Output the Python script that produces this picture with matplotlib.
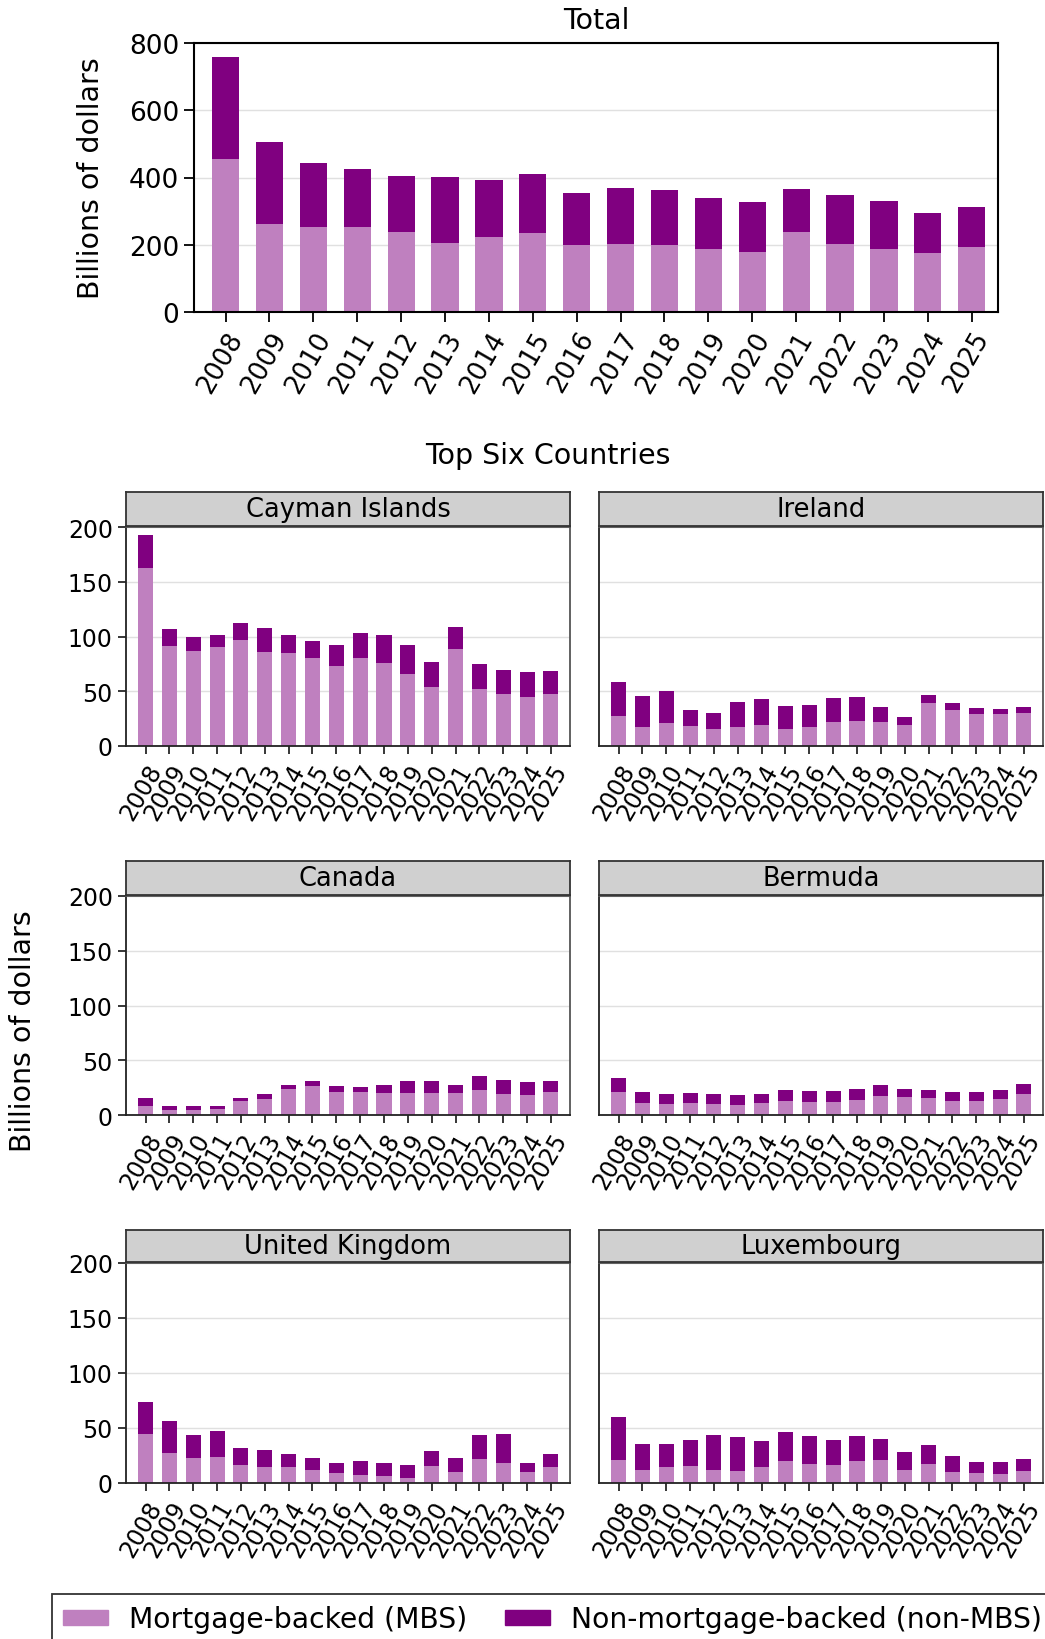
import numpy as np
import matplotlib
matplotlib.use("Agg")
import matplotlib.pyplot as plt
from matplotlib.patches import Patch

years = [str(y) for y in range(2008, 2026)]

# Totals across all countries (billions of dollars)
total_mbs = [456, 263, 254, 254, 239, 206, 224, 236, 200, 203, 200, 188, 179, 239, 203, 188, 176, 194]
total_all = [759, 506, 444, 426, 403, 402, 394, 411, 355, 370, 362, 338, 328, 367, 347, 331, 295, 313]

countries = ["Cayman Islands", "Ireland", "Canada", "Bermuda", "United Kingdom", "Luxembourg"]

cayman_mbs = [162.5, 90.9, 86.4, 90.0, 96.4, 85.5, 84.6, 80.1, 72.8, 80.1, 75.5, 65.6, 53.8, 88.2, 52.0, 47.4, 44.7, 47.4]
cayman_all = [192.4, 107.3, 99.1, 101.8, 112.7, 108.2, 101.8, 95.8, 91.8, 103.6, 101.8, 91.8, 76.4, 109.1, 74.6, 69.2, 67.4, 68.3]

ireland_mbs = [27.5, 17.5, 21.1, 18.4, 15.7, 17.5, 19.3, 15.7, 17.5, 22.1, 23.0, 22.1, 19.3, 39.3, 32.9, 29.3, 29.3, 30.2]
ireland_all = [58.3, 45.6, 50.2, 32.9, 30.2, 40.2, 42.9, 36.6, 37.5, 43.8, 44.7, 35.6, 26.6, 46.5, 39.3, 34.7, 33.8, 35.6]

canada_mbs = [7.9, 4.2, 4.2, 5.2, 12.4, 14.2, 23.3, 26.1, 20.6, 20.6, 19.7, 19.7, 19.7, 19.7, 22.4, 18.8, 17.9, 20.6]
canada_all = [15.2, 7.9, 7.9, 7.9, 15.2, 18.8, 27.0, 31.5, 26.1, 25.2, 27.0, 30.6, 30.6, 27.0, 35.2, 32.4, 29.7, 30.6]

bermuda_mbs = [20.6, 10.6, 9.7, 10.6, 9.7, 8.8, 10.6, 12.4, 11.5, 11.5, 13.3, 17.0, 16.1, 15.2, 12.4, 12.4, 14.2, 18.8]
bermuda_all = [34.2, 20.6, 18.8, 19.7, 18.8, 17.9, 18.8, 22.4, 21.5, 21.5, 24.2, 27.0, 24.2, 22.4, 20.6, 20.6, 22.4, 27.9]

uk_mbs = [44.5, 27.3, 22.7, 23.6, 16.4, 14.5, 14.2, 11.8, 9.1, 7.3, 6.4, 4.5, 15.5, 10.0, 21.8, 18.2, 10.0, 14.5]
uk_all = [73.6, 56.4, 43.6, 47.3, 31.8, 30.0, 26.4, 22.7, 18.2, 20.0, 18.2, 16.4, 29.1, 22.7, 43.6, 44.5, 18.2, 26.4]

lux_mbs = [20.9, 11.8, 14.5, 15.5, 11.8, 10.9, 14.5, 20.0, 17.3, 16.4, 20.0, 20.9, 11.8, 17.3, 10.0, 9.1, 8.2, 10.9]
lux_all = [60.0, 35.5, 35.5, 39.1, 43.6, 41.8, 38.2, 46.4, 42.7, 39.1, 42.7, 40.0, 28.2, 34.5, 24.5, 19.1, 19.1, 21.8]

country_mbs = [cayman_mbs, ireland_mbs, canada_mbs, bermuda_mbs, uk_mbs, lux_mbs]
country_all = [cayman_all, ireland_all, canada_all, bermuda_all, uk_all, lux_all]

MBS_COLOR = "#bf80bf"
NON_COLOR = "#800080"
W, H = 1045, 1640

fig = plt.figure(figsize=(W / 100, H / 100), dpi=100)


def px(left, top, right, bottom):
    # pixel box -> figure fraction rect
    return [left / W, 1 - bottom / H, (right - left) / W, (bottom - top) / H]


def stacked(ax, mbs, total, width):
    x = np.arange(len(years))
    mbs = np.array(mbs)
    non = np.array(total) - mbs
    ax.bar(x, mbs, width=width, color=MBS_COLOR, zorder=2)
    ax.bar(x, non, width=width, bottom=mbs, color=NON_COLOR, zorder=2)
    ax.set_xticks(x)
    ax.yaxis.grid(True, color="#e0e0e0", linewidth=1, zorder=0)
    ax.set_axisbelow(True)


# --- Total panel
ax = fig.add_axes(px(194, 44, 998, 313))
stacked(ax, total_mbs, total_all, 0.62)
ax.set_xlim(-0.72, 17.6)
ax.set_ylim(0, 800)
ax.set_yticks([0, 200, 400, 600, 800])
ax.set_xticklabels(years, rotation=60, ha="right", rotation_mode="anchor", fontsize=18.5)
ax.tick_params(axis="y", labelsize=19)
ax.tick_params(direction="out", length=7, width=1.3)
for s in ax.spines.values():
    s.set_linewidth(1.5)
fig.text(91 / W, 1 - 178 / H, "Billions of dollars", rotation=90, ha="center", va="center", fontsize=20.5)
fig.text(596 / W, 1 - 21 / H, "Total", ha="center", va="center", fontsize=20.5)

fig.text(548 / W, 1 - 456 / H, "Top Six Countries", ha="center", va="center", fontsize=20.5)

# --- Country panels
cols = [(126, 570), (599, 1043)]
rows = [(493, 528, 747), (862, 897, 1116), (1231, 1264, 1484)]
for i, name in enumerate(countries):
    r, c = divmod(i, 2)
    left, right = cols[c]
    s_top, a_top, a_bot = rows[r]
    ax = fig.add_axes(px(left, a_top, right, a_bot))
    stacked(ax, country_mbs[i], country_all[i], 0.63)
    ax.set_xlim(-0.82, 17.8)
    ax.set_ylim(0, 200)
    ax.set_yticks([0, 50, 100, 150, 200])
    ax.set_xticklabels(years, rotation=60, ha="right", rotation_mode="anchor", fontsize=17)
    ax.tick_params(direction="out", length=6, width=1.1, labelsize=17)
    for sname, s in ax.spines.items():
        s.set_linewidth(1.3)
        s.set_color("#222222" if sname in ("left", "bottom") else "#555555")
    if c == 1:
        ax.tick_params(axis="y", left=False, labelleft=False)

    # facet strip
    sax = fig.add_axes(px(left, s_top, right, a_top - 1))
    sax.set_facecolor("#d0d0d0")
    sax.set_xticks([])
    sax.set_yticks([])
    for s in sax.spines.values():
        s.set_color("#333333")
        s.set_linewidth(1.3)
    sax.text(0.5, 0.5, name, ha="center", va="center", fontsize=18.5, transform=sax.transAxes)

fig.text(23 / W, 1 - 1031 / H, "Billions of dollars", rotation=90, ha="center", va="center", fontsize=20.5)

handles = [Patch(color=MBS_COLOR, label="Mortgage-backed (MBS)"),
           Patch(color=NON_COLOR, label="Non-mortgage-backed (non-MBS)")]
leg = fig.legend(handles=handles, loc="upper left", bbox_to_anchor=(52 / W, 1 - 1595 / H),
                 borderaxespad=0, ncol=2, fontsize=20.3, frameon=True, fancybox=False,
                 edgecolor="black", handlelength=1.58, handleheight=0.45, handletextpad=0.75,
                 columnspacing=1.35, borderpad=0.4)
leg.get_frame().set_linewidth(1.3)

fig.savefig("out.png", dpi=100)
